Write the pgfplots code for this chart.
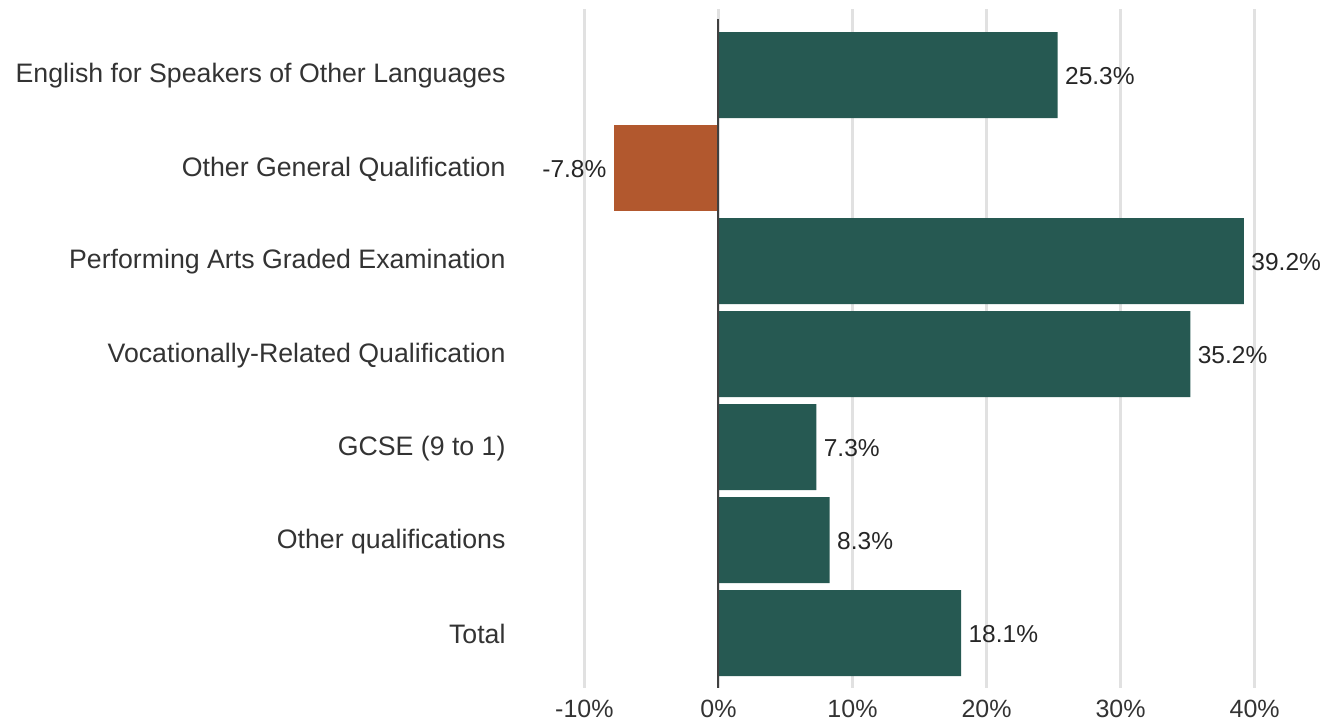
\documentclass[border=0pt]{standalone}
\usepackage{pgfplots}
\pgfplotsset{compat=1.18}
\usepackage{fontspec}
\setmainfont{Liberation Sans}
\definecolor{teal}{RGB}{38,89,82}
\definecolor{rust}{RGB}{178,88,46}
\definecolor{txt}{RGB}{51,51,51}
\definecolor{grd}{RGB}{225,225,225}
\begin{document}
\begin{tikzpicture}
\path[use as bounding box] (0,0) rectangle (1321pt,-724pt);
\begin{axis}[
  at={(575pt,-9pt)}, anchor=north west,
  scale only axis, width=685pt, height=679pt,
  xmin=-10.7, xmax=40.4,
  ymin=-0.71, ymax=6.59, y dir=reverse,
  axis line style={draw=none},
  xtick={-10,0,10,20,30,40},
  xticklabels={-10\%,0\%,10\%,20\%,30\%,40\%},
  xticklabel style={font=\fontsize{25}{29}\selectfont, text=txt, yshift=-8pt},
  ytick={0,1,2,3,4,5,6},
  yticklabels={English for Speakers of Other Languages, Other General Qualification, Performing Arts Graded Examination, Vocationally-Related Qualification, GCSE (9 to 1), Other qualifications, Total},
  yticklabel style={font=\fontsize{26.7}{31}\selectfont, text=txt, anchor=east, xshift=-66pt, yshift=-1pt},
  major tick length=0pt,
  xmajorgrids, grid style={grd, line width=2.5pt},
  xbar, bar shift=0pt, bar width=0.925,
  nodes near coords, point meta=explicit symbolic,
  every node near coord/.append style={font=\fontsize{24.5}{28}\selectfont, text=black!85, yshift=-1pt},
  clip=false,
]
\addplot[fill=teal, draw=none, nodes near coords style={anchor=west, xshift=4pt}] coordinates {
(25.3,0) [25.3\%]
(39.2,2) [39.2\%]
(35.2,3) [35.2\%]
(7.3,4) [7.3\%]
(8.3,5) [8.3\%]
(18.1,6) [18.1\%]
};
\addplot[fill=rust, draw=none, nodes near coords style={anchor=east, xshift=-4pt}] coordinates {
(-7.8,1) [-7.8\%]
};
\draw[black!75, line width=2pt] (axis cs:0,-0.6) -- (axis cs:0,6.59);
\end{axis}
\end{tikzpicture}
\end{document}
